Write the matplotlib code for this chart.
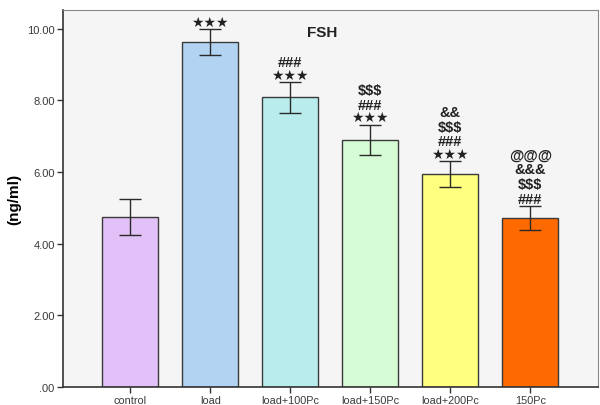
import matplotlib.pyplot as plt

groups = ["control", "load", "load+100Pc", "load+150Pc", "load+200Pc", "150Pc"]
fsh = [4.75, 9.62, 8.08, 6.90, 5.94, 4.72]
fsh_err = [0.50, 0.36, 0.43, 0.42, 0.36, 0.33]
# significance marks, listed from the bottom row up
marks = [[], ["★★★"], ["★★★", "###"], ["★★★", "###", "$$$"],
         ["★★★", "###", "$$$", "&&"], ["###", "$$$", "&&&", "@@@"]]
colores = ["#e1c1f7", "#b2d4f2", "#b9ecec", "#d6fcd6", "#ffff80", "#ff6a00"]
yticks = [0, 2, 4, 6, 8, 10]
ytick_labels = [".00", "2.00", "4.00", "6.00", "8.00", "10.00"]

plt.rcParams['font.family'] = ['Liberation Sans', 'DejaVu Sans']

fig = plt.figure(figsize=(6, 4.06), dpi=100)
ax = fig.add_axes([0.105, 0.044, 0.892, 0.929])
ax.set_facecolor("#f5f5f5")

x = range(len(groups))
ax.bar(x, fsh, width=0.7, color=colores, edgecolor="#3a3a3a", linewidth=1.0, zorder=2)
ax.errorbar(x, fsh, yerr=fsh_err, fmt='none', ecolor="#2a2a2a", elinewidth=1.0,
            capsize=8, capthick=1.0, zorder=3)

for i in x:
    tope = fsh[i] + fsh_err[i]
    off = 2.5
    for m in marks[i]:
        if m.startswith("★"):
            ax.annotate(m, (i, tope), xytext=(0, off), textcoords='offset points',
                        ha='center', va='baseline', fontsize=10, family='DejaVu Sans',
                        color="#222222", zorder=4)
            off += 9
        else:
            ax.annotate(m, (i, tope), xytext=(0, off), textcoords='offset points',
                        ha='center', va='baseline', fontsize=10.5, fontweight='bold',
                        color="#222222", zorder=4)
            off += 10.5

ax.text(2.21, 9.91, "FSH", fontsize=11, fontweight='bold', color="#222222",
        ha='left', va='center')

ax.set_xlim(-0.84, 5.85)
ax.set_ylim(0, 10.52)
ax.set_xticks(list(x))
ax.set_xticklabels(groups, fontsize=7.8, color="#3a3a3a")
ax.set_yticks(yticks)
ax.set_yticklabels(ytick_labels, fontsize=8, color="#3a3a3a")
ax.tick_params(length=4, width=1, color="#333333", pad=2)
ax.set_ylabel("(ng/ml)", fontsize=11, fontweight='bold', labelpad=4)

for s in ["top", "right"]:
    ax.spines[s].set_color("#888888")
for s in ["left", "bottom"]:
    ax.spines[s].set_color("#333333")
    ax.spines[s].set_linewidth(1.2)

plt.savefig("out.png", dpi=100)
